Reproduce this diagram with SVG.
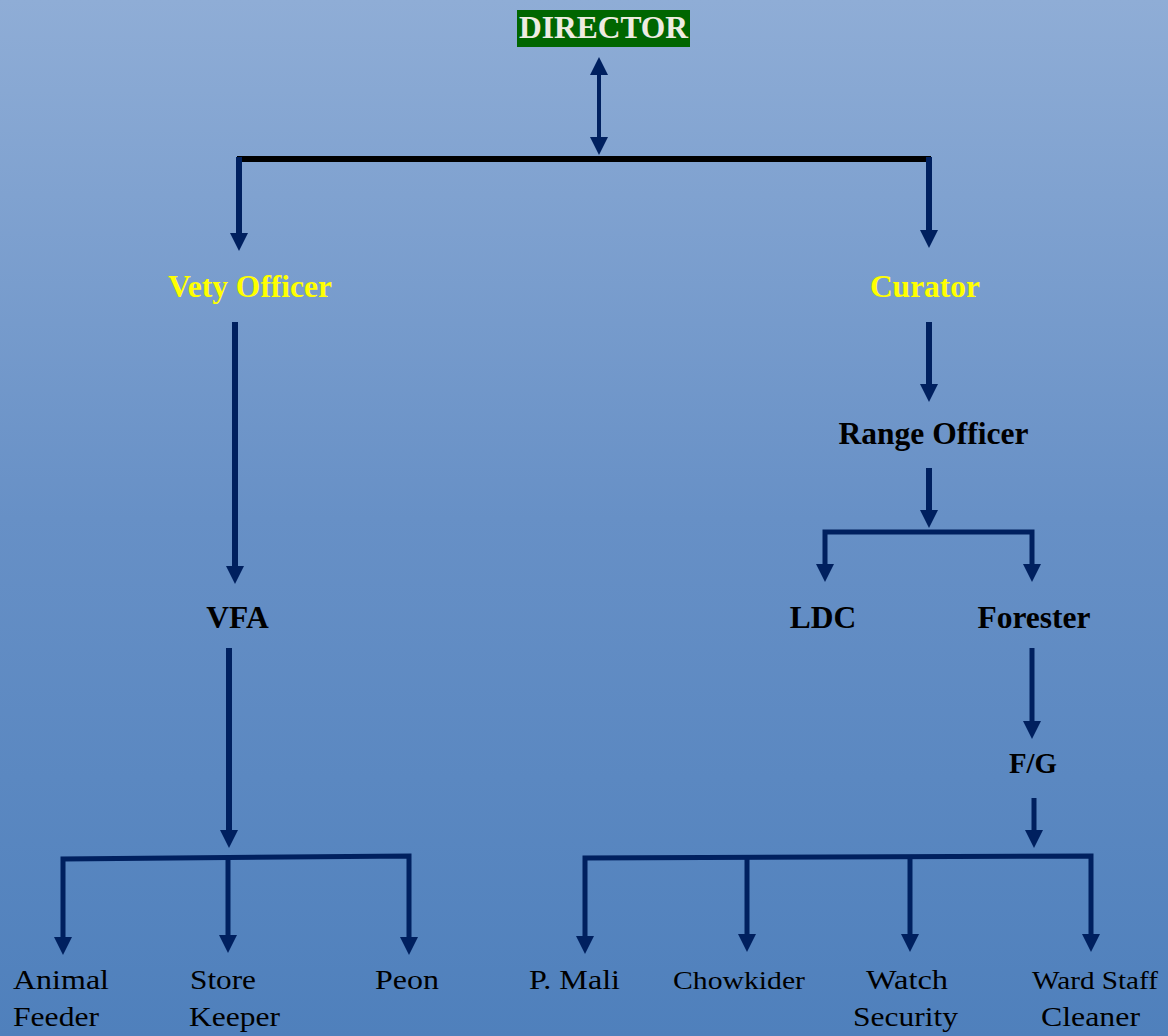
<svg xmlns="http://www.w3.org/2000/svg" width="1168" height="1036" viewBox="0 0 1168 1036">
<defs>
<linearGradient id="bg" x1="0" y1="0" x2="0" y2="1">
<stop offset="0" stop-color="#8fadd6"/>
<stop offset="0.5" stop-color="#6790c6"/>
<stop offset="1" stop-color="#4f80bc"/>
</linearGradient>
<marker id="ah" viewBox="0 0 18 18" refX="7" refY="9" markerWidth="18" markerHeight="18" markerUnits="userSpaceOnUse" orient="auto-start-reverse">
<path d="M0,0 L18,9 L0,18 z" fill="#00205f"/>
</marker>
<style>
.c{stroke:#00205f;fill:none;stroke-width:5}
.a{marker-end:url(#ah)}
.b{font-family:"Liberation Serif","Times New Roman",serif;font-weight:bold;font-size:31.5px;text-anchor:middle;fill:#000}
.y{fill:#ffff00}
.p{font-family:"Liberation Serif","Times New Roman",serif;font-size:28px;fill:#000}
.s{font-size:25px}
</style>
</defs>
<rect width="1168" height="1036" fill="url(#bg)"/>
<g id="connectors">
<line x1="599" y1="68" x2="599" y2="144" class="c" style="stroke-width:4;marker-start:url(#ah);marker-end:url(#ah)"/>
<line x1="237" y1="159" x2="931" y2="159" stroke="#000" stroke-width="6"/>
<line x1="239" y1="157" x2="239" y2="240" class="c a" style="stroke-width:6"/>
<line x1="929" y1="157" x2="929" y2="237" class="c a" style="stroke-width:6"/>
<line x1="235" y1="322" x2="235" y2="573" class="c a" style="stroke-width:6"/>
<line x1="229" y1="648" x2="229" y2="837" class="c a" style="stroke-width:6"/>
<polyline points="63,944 63,859 409,856 409,944" class="c" style="marker-end:url(#ah);marker-start:url(#ah)"/>
<line x1="228" y1="858" x2="228" y2="942" class="c a"/>
<line x1="929" y1="322" x2="929" y2="391" class="c a" style="stroke-width:6"/>
<line x1="929" y1="468" x2="929" y2="517" class="c a" style="stroke-width:6"/>
<polyline points="825,571 825,532 1032,532 1032,571" class="c" style="marker-end:url(#ah);marker-start:url(#ah)"/>
<line x1="1032" y1="648" x2="1032" y2="728" class="c a"/>
<line x1="1034" y1="798" x2="1034" y2="837" class="c a"/>
<polyline points="585,943 585,858 1091,856 1091,941" class="c" style="marker-end:url(#ah);marker-start:url(#ah)"/>
<line x1="747" y1="857" x2="747" y2="941" class="c a"/>
<line x1="910" y1="857" x2="910" y2="941" class="c a"/>
</g>
<g id="director">
<rect x="517" y="10" width="173" height="37" fill="#006600"/>
<text x="603.5" y="38" class="b" style="fill:#eeece1">DIRECTOR</text>
</g>
<g id="vety-officer"><text x="250" y="297" class="b y">Vety Officer</text></g>
<g id="curator"><text x="925" y="297" class="b y">Curator</text></g>
<g id="range-officer"><text x="933.5" y="444" class="b">Range Officer</text></g>
<g id="vfa"><text x="237.5" y="628" class="b">VFA</text></g>
<g id="ldc"><text x="823" y="628" class="b">LDC</text></g>
<g id="forester"><text x="1034" y="628" class="b">Forester</text></g>
<g id="fg"><text x="1033" y="773" class="b" style="font-size:29px" textLength="48" lengthAdjust="spacingAndGlyphs">F/G</text></g>
<g id="animal-feeder">
<text x="13" y="989" class="p" textLength="96" lengthAdjust="spacingAndGlyphs">Animal</text>
<text x="13" y="1026" class="p" textLength="86" lengthAdjust="spacingAndGlyphs">Feeder</text>
</g>
<g id="store-keeper">
<text x="190" y="989" class="p" textLength="66" lengthAdjust="spacingAndGlyphs">Store</text>
<text x="189" y="1026" class="p" textLength="91" lengthAdjust="spacingAndGlyphs">Keeper</text>
</g>
<g id="peon"><text x="375" y="989" class="p" textLength="64" lengthAdjust="spacingAndGlyphs">Peon</text></g>
<g id="p-mali"><text x="529" y="989" class="p" textLength="91" lengthAdjust="spacingAndGlyphs">P. Mali</text></g>
<g id="chowkider"><text x="673" y="989" class="p s" textLength="132" lengthAdjust="spacingAndGlyphs">Chowkider</text></g>
<g id="watch-security">
<text x="866" y="989" class="p" textLength="82" lengthAdjust="spacingAndGlyphs">Watch</text>
<text x="853" y="1026" class="p" textLength="105" lengthAdjust="spacingAndGlyphs">Security</text>
</g>
<g id="ward-staff-cleaner">
<text x="1032" y="989" class="p s" textLength="126" lengthAdjust="spacingAndGlyphs">Ward Staff</text>
<text x="1041" y="1026" class="p" textLength="99" lengthAdjust="spacingAndGlyphs">Cleaner</text>
</g>
</svg>
